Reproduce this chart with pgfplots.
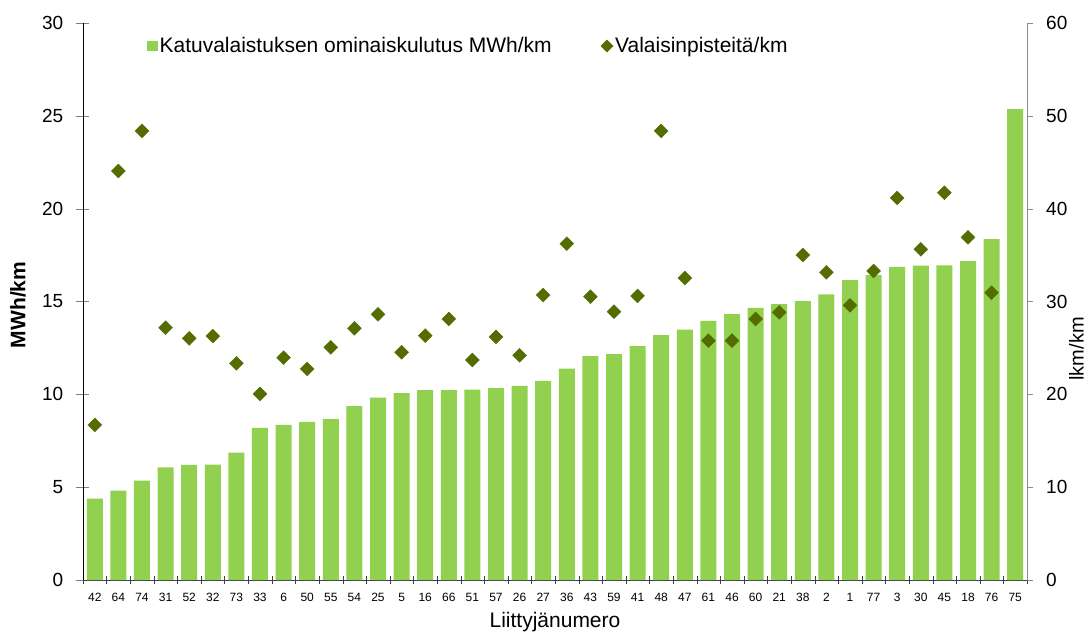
\documentclass[border=0pt]{standalone}
\usepackage{fontspec}
\setmainfont{Liberation Sans}
\usepackage{pgfplots}
\pgfplotsset{compat=1.18}
\definecolor{barg}{RGB}{146,208,80}
\definecolor{dgreen}{RGB}{84,108,0}

\begin{document}
\begin{tikzpicture}
\begin{axis}[
    scale only axis, width=944pt, height=557pt,
    xmin=-0.5, xmax=39.5, ymin=0, ymax=30,
    axis x line*=bottom, axis y line*=left,
    axis line style={-},
    x axis line style={draw=black!75},
    tick align=center,
    major tick length=13pt,
    xtick style={/pgfplots/major tick length=8pt, draw=black!75},
    ytick={0,5,...,30},
    xtick={-0.5,0.5,...,39.5},
    xticklabels={42,64,74,31,52,32,73,33,6,50,55,54,25,5,16,66,51,57,26,27,36,43,59,41,48,47,61,46,60,21,38,2,1,77,3,30,45,18,76,75,{}},
    xticklabel style={font=\fontsize{12}{14}\selectfont, xshift=11.8pt, yshift=-3pt},
    yticklabel style={font=\fontsize{19}{22}\selectfont, inner sep=0pt, xshift=-13pt},
    /pgf/number format/assume math mode=true,
    xlabel={Liittyjänumero},
    xlabel style={font=\fontsize{21}{24}\selectfont, at={(axis description cs:0.5,-0.0844)}, anchor=base},
    ylabel={\textbf{MWh/km}},
    ylabel style={font=\fontsize{21}{24}\selectfont, at={(axis description cs:-0.0689,0.494)}, anchor=center},
    legend columns=2,
    legend style={draw=none, fill=none, inner sep=0pt,
        at={(axis description cs:0.0675,0.9587)}, anchor=west,
        font=\fontsize{21}{24}\selectfont,
        /tikz/every even column/.append style={column sep=47pt}},
]
\addplot[ybar, bar width=16pt, fill=barg, draw=none,
    legend image code/.code={\fill[barg] (0pt,-5.3pt) rectangle (10.7pt,5.3pt);}]
  coordinates {
    (0,4.38) (1,4.81) (2,5.35) (3,6.07) (4,6.20) (5,6.21) (6,6.86) (7,8.20)
    (8,8.35) (9,8.51) (10,8.67) (11,9.37) (12,9.82) (13,10.07) (14,10.23)
    (15,10.23) (16,10.25) (17,10.34) (18,10.45) (19,10.72) (20,11.38)
    (21,12.06) (22,12.17) (23,12.60) (24,13.19) (25,13.48) (26,13.96)
    (27,14.32) (28,14.65) (29,14.86) (30,15.02) (31,15.38) (32,16.15)
    (33,16.42) (34,16.87) (35,16.93) (36,16.95) (37,17.18) (38,18.36)
    (39,25.36)
  };
\addlegendentry{Katuvalaistuksen ominaiskulutus MWh/km}
\addlegendimage{legend image code/.code={\fill[dgreen] (0pt,0pt)--(6pt,6pt)--(12pt,0pt)--(6pt,-6pt)--cycle;}}
\addlegendentry{Valaisinpisteitä/km}
\end{axis}

\begin{axis}[
    scale only axis, width=944pt, height=557pt,
    xmin=-0.5, xmax=39.5, ymin=0, ymax=60,
    axis x line=none, axis y line*=right,
    axis line style={-, draw=black!45},
    ytick={0,10,...,60},
    ytick style={draw=black!45},
    tick align=outside,
    major tick length=6pt,
    yticklabel style={font=\fontsize{19}{22}\selectfont, inner sep=0pt, xshift=13pt},
    /pgf/number format/assume math mode=true,
    ylabel={lkm/km},
    ylabel style={font=\fontsize{20}{24}\selectfont, inner sep=0pt, at={(axis description cs:1.0525,0.415)}, anchor=center},
]
\addplot[dgreen, only marks, mark=square*, mark size=4.9pt, mark options={rotate=45}]
  coordinates {
    (0,16.7) (1,44.06) (2,48.37) (3,27.18) (4,26.03) (5,26.28) (6,23.34)
    (7,20.04) (8,23.95) (9,22.73) (10,25.06) (11,27.11) (12,28.62)
    (13,24.53) (14,26.32) (15,28.12) (16,23.70) (17,26.18) (18,24.20)
    (19,30.70) (20,36.23) (21,30.52) (22,28.90) (23,30.60) (24,48.37)
    (25,32.53) (26,25.78) (27,25.78) (28,28.12) (29,28.83) (30,35.01)
    (31,33.14) (32,29.59) (33,33.29) (34,41.15) (35,35.62) (36,41.72)
    (37,36.91) (38,30.95)
  };
\end{axis}
\pgfresetboundingbox
\path (-83pt,-52pt) rectangle (1007pt,580pt);
\end{tikzpicture}
\end{document}
